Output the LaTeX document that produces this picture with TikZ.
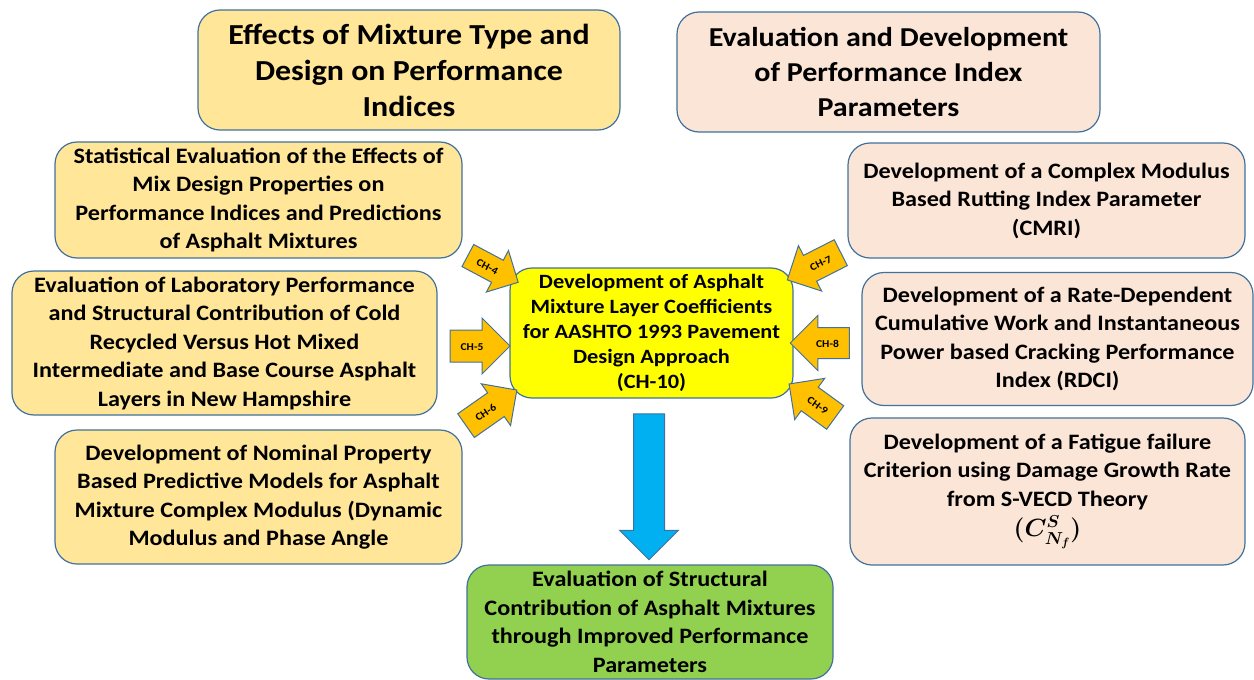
\documentclass[tikz,border=0pt]{standalone}
\usepackage{fontspec}
\setmainfont{Carlito}[FakeStretch=1.1]
\usepackage{amsmath}
\usetikzlibrary{shapes.arrows}
\definecolor{bordc}{HTML}{41719C}
\definecolor{yelfill}{HTML}{FFE699}
\definecolor{peach}{HTML}{FBE5D6}
\definecolor{cyel}{HTML}{FFFF00}
\definecolor{grn}{HTML}{92D050}
\definecolor{orarr}{HTML}{FFC000}
\definecolor{blarr}{HTML}{00B0F0}
\tikzset{
  box/.style={draw=bordc, line width=1.2pt, rounded corners=22pt, align=center, inner sep=0pt,
    font=\bfseries\fontsize{22}{28.5}\selectfont},
  titlebox/.style={box, font=\bfseries\fontsize{29}{36}\selectfont},
  chbox/.style={single arrow, draw=bordc, line width=1pt, fill=orarr, inner xsep=0pt, inner ysep=10pt,
    text height=8pt, text depth=0pt,
    single arrow head extend=11pt, minimum height=58pt,
    font=\bfseries\fontsize{10.5}{12}\selectfont},
  downarr/.style={single arrow, draw=bordc, line width=1pt, fill=blarr, inner sep=15pt,
    text height=0pt, text depth=0pt, text width=0pt,
    single arrow head extend=14pt, minimum height=146pt, shape border rotate=270}
}
\begin{document}
\begin{tikzpicture}[x=1pt,y=-1pt]
\useasboundingbox (0,0) rectangle (1254,680);
\fill[white] (0,0) rectangle (1254,680);
% title boxes
\node[titlebox, fill=yelfill, minimum width=422pt, minimum height=120pt] (tl) at (409,70)
  {Effects of Mixture Type and\\Design on Performance\\Indices};
\node[titlebox, fill=peach, minimum width=423pt, minimum height=120pt, font=\bfseries\fontsize{27.3}{35}\selectfont] (tr) at (888.5,72)
  {Evaluation and Development\\of Performance Index\\Parameters};
% left boxes
\node[box, fill=yelfill, minimum width=407pt, minimum height=116pt] (l1) at (258.5,200)
  {Statistical Evaluation of the Effects of\\Mix Design Properties on\\Performance Indices and Predictions\\of Asphalt Mixtures};
\node[box, fill=yelfill, minimum width=425pt, minimum height=144pt] (l2) at (224.5,343)
  {Evaluation of Laboratory Performance\\and Structural Contribution of Cold\\Recycled Versus Hot Mixed\\Intermediate and Base Course Asphalt\\Layers in New Hampshire};
\node[box, fill=yelfill, minimum width=407pt, minimum height=134pt] (l3) at (258.5,497)
  {Development of Nominal Property\\Based Predictive Models for Asphalt\\Mixture Complex Modulus (Dynamic\\Modulus and Phase Angle};
% center
\node[box, fill=cyel, minimum width=283pt, minimum height=130pt, font=\bfseries\fontsize{20.3}{25}\selectfont] (c) at (651.5,333)
  {Development of Asphalt\\Mixture Layer Coefficients\\for AASHTO 1993 Pavement\\Design Approach\\(CH-10)};
% right boxes
\node[box, fill=peach, minimum width=397pt, minimum height=115pt] (r1) at (1046.5,200.5)
  {Development of a Complex Modulus\\Based Rutting Index Parameter\\(CMRI)};
\node[box, fill=peach, minimum width=391pt, minimum height=133pt] (r2) at (1057.5,339)
  {Development of a Rate-Dependent\\Cumulative Work and Instantaneous\\Power based Cracking Performance\\Index (RDCI)};
\node[box, fill=peach, minimum width=395pt, minimum height=147pt] (r3) at (1047.5,491.5)
  {Development of a Fatigue failure\\Criterion using Damage Growth Rate\\from S-VECD Theory\\[2pt]{\fontsize{25}{30}\selectfont\boldmath$(C^{S}_{N_{f}})$}};
% bottom
\node[box, fill=grn, minimum width=366pt, minimum height=114pt] (b) at (650,622)
  {Evaluation of Structural\\Contribution of Asphalt Mixtures\\through Improved Performance\\Parameters};
% block arrows
\node[downarr] (down) at (649,479) {};
\node[chbox, rotate=-28, minimum height=57pt, inner ysep=8pt] (a4) at (487.5,266) {CH-4};
\node[chbox, minimum height=60pt, inner ysep=11.5pt, single arrow head extend=12pt] (a5) at (472,346) {CH-5};
\node[chbox, rotate=35, minimum height=62pt] (a6) at (485.5,412) {CH-6};
\node[chbox, rotate=27, shape border rotate=180, minimum height=60pt] (a7) at (820.5,263) {CH-7};
\node[chbox, shape border rotate=180, minimum height=59pt, inner ysep=11pt, single arrow head extend=12pt] (a8) at (827.5,343) {CH-8};
\node[chbox, rotate=-36, shape border rotate=180, minimum height=57pt] (a9) at (818,405) {CH-9};
\end{tikzpicture}
\end{document}
